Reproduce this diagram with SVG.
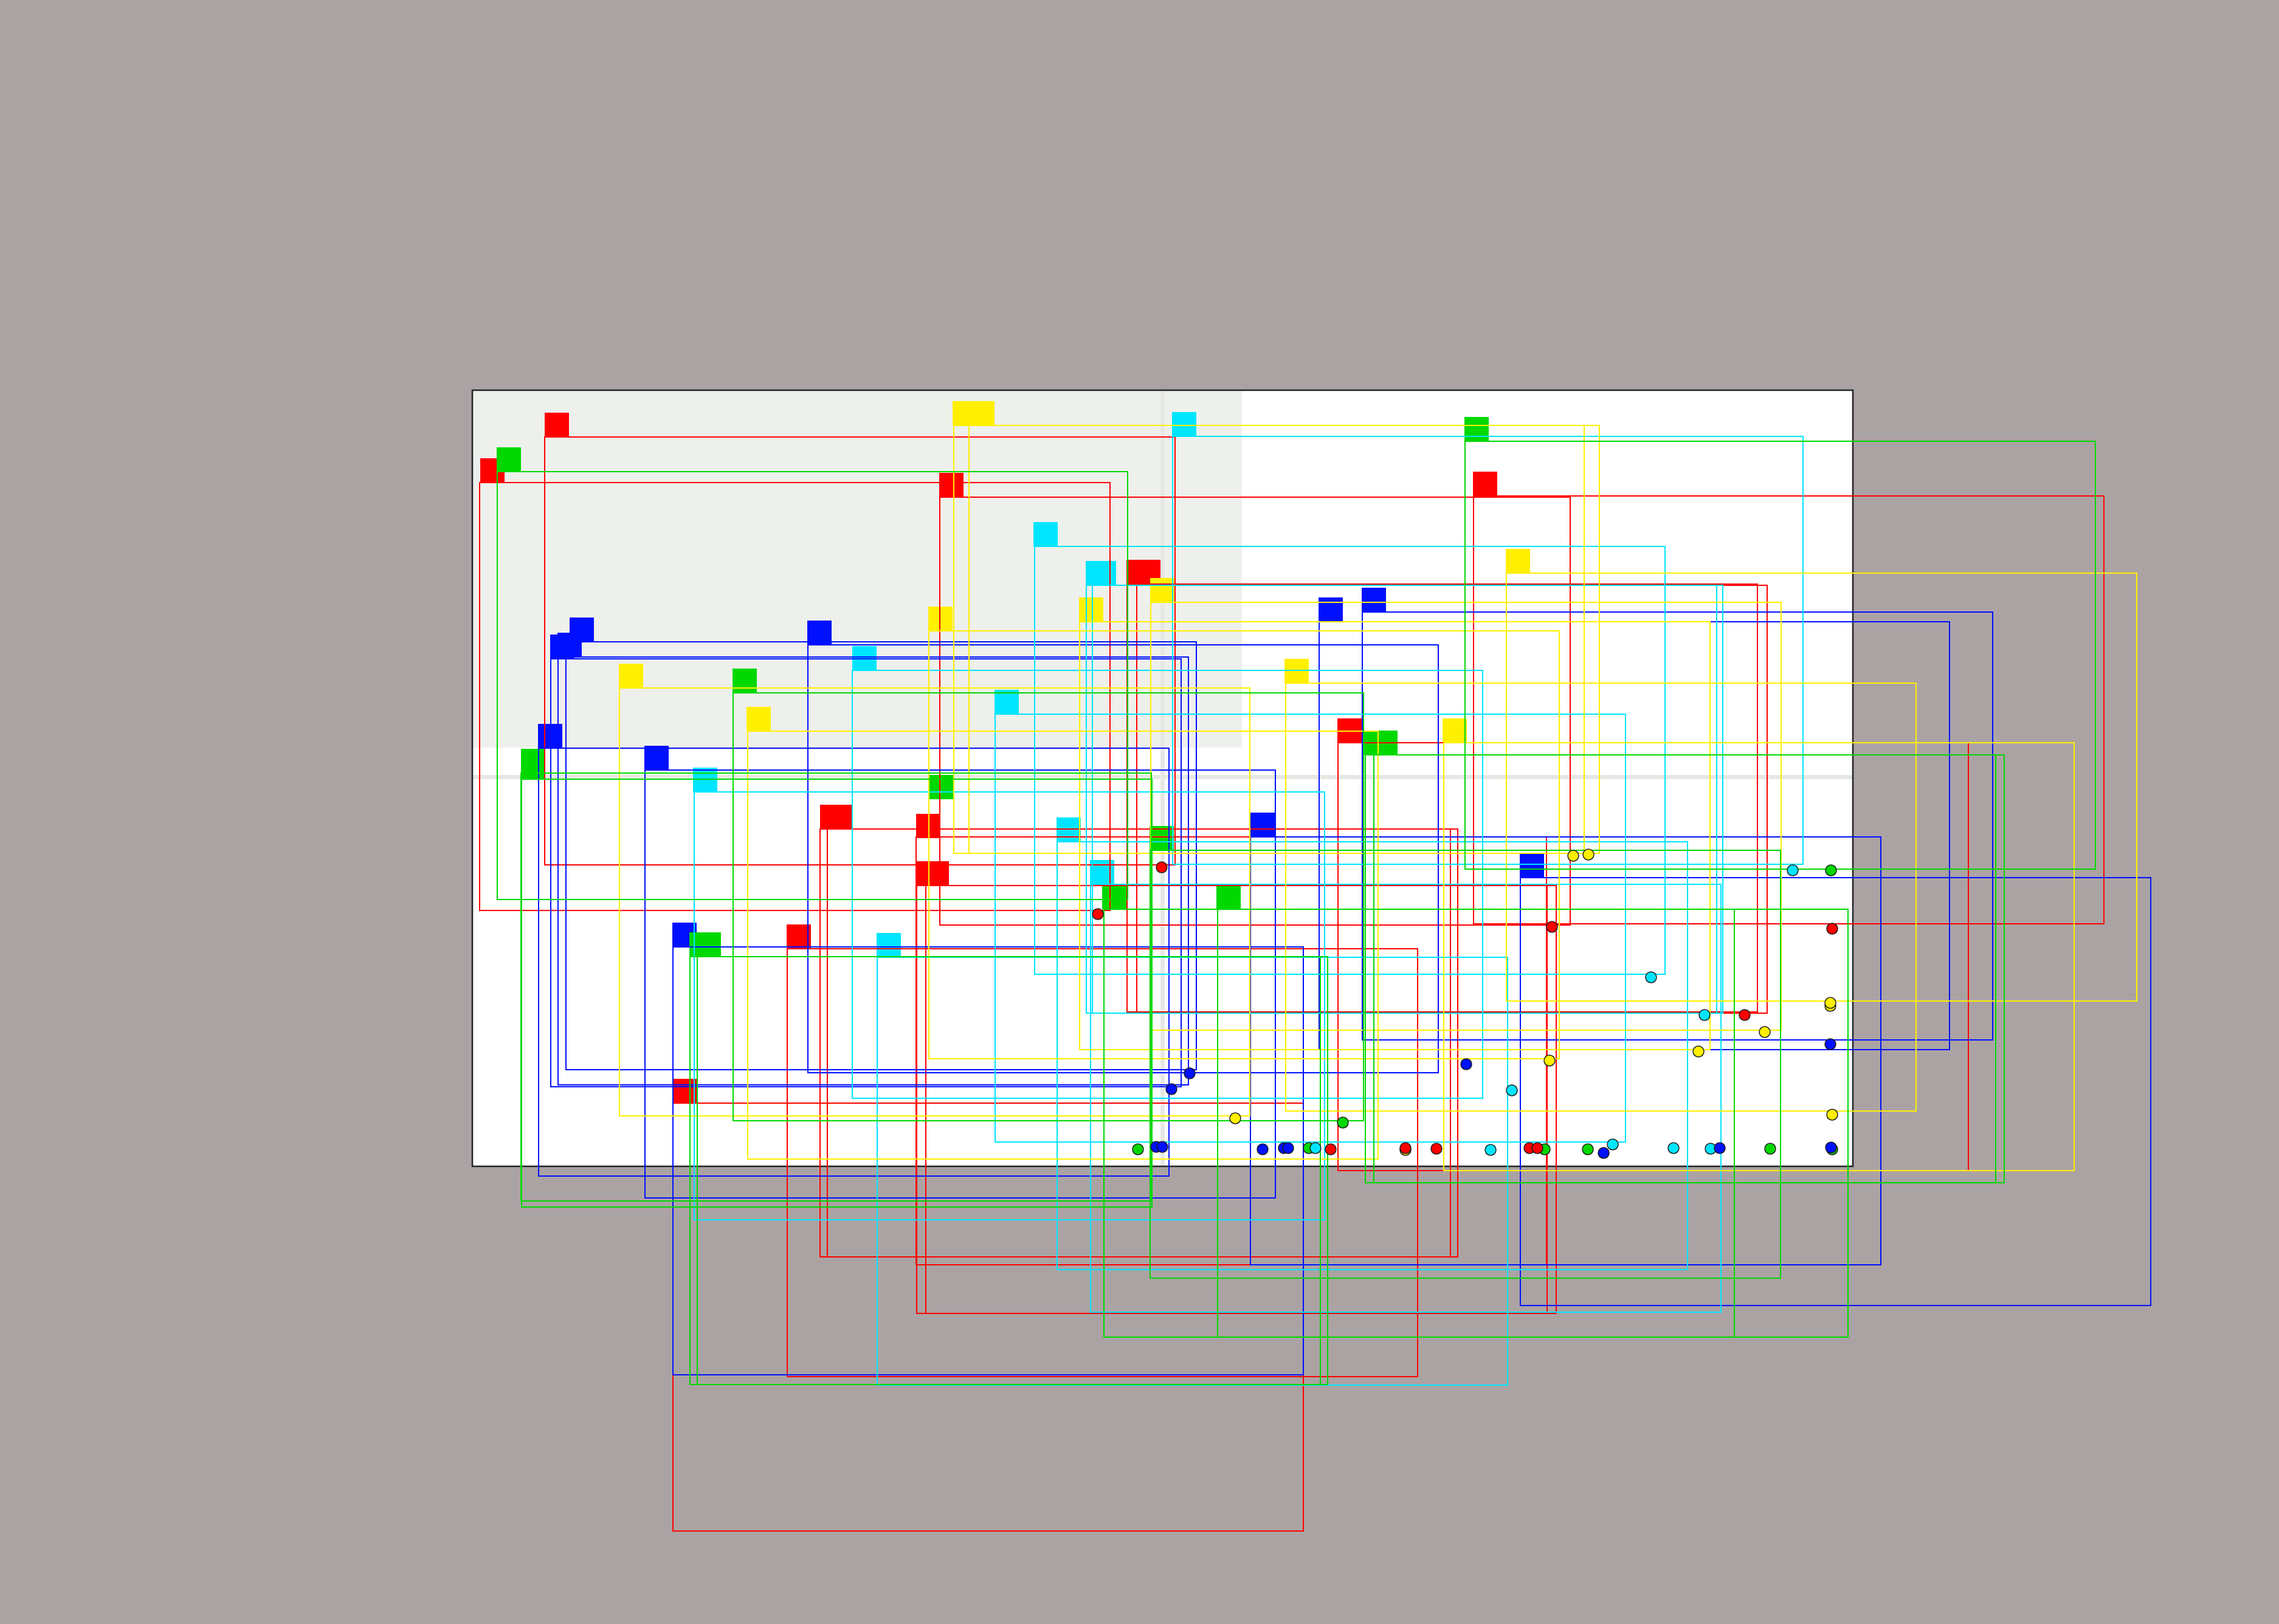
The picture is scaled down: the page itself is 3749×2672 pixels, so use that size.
<svg xmlns="http://www.w3.org/2000/svg" width="3749" height="2672" viewBox="0 0 3749 2672">
<style>
.sr{fill:#FF0000}.sg{fill:#00D800}.sb{fill:#0010FF}.sc{fill:#00E5FF}.sy{fill:#FFF000}
.f{fill:none;stroke-width:2}
.fr{stroke:#FF0000}.fg{stroke:#00D800}.fb{stroke:#0010FF}.fc{stroke:#00E5FF}.fy{stroke:#FFF000}
.d{stroke:#1E1E1E;stroke-width:1.5}
</style>
<rect width="3749" height="2672" fill="#ABA3A3"/>
<g id="panel">
<rect x="777" y="642" width="2271" height="1277" fill="#FFFFFF"/>
<rect x="778" y="643" width="1265" height="587" fill="#EEF0EC"/>
<rect x="1909" y="643" width="7" height="1275" fill="#E6E8E3"/>
<rect x="778" y="1275" width="2269" height="7" fill="#E6E8E3"/>
<rect x="777" y="642" width="2271" height="1277" fill="none" stroke="#222228" stroke-width="2.5"/>
</g>
<g id="tags">
<g class="sr">
<rect x="896" y="679" width="40" height="40"/><rect x="790" y="754" width="40" height="40"/><rect x="1545" y="778" width="40" height="40"/><rect x="2423" y="776" width="40" height="40"/><rect x="1853" y="921" width="40" height="40"/><rect x="1869" y="921" width="40" height="40"/><rect x="1349" y="1324" width="40" height="40"/><rect x="1361" y="1324" width="40" height="40"/><rect x="1507" y="1339" width="40" height="40"/><rect x="1508" y="1417" width="40" height="40"/><rect x="1521" y="1417" width="40" height="40"/><rect x="1294" y="1521" width="40" height="40"/><rect x="1107" y="1775" width="40" height="40"/><rect x="2200" y="1182" width="40" height="40"/>
</g>
<g class="sb">
<rect x="937" y="1016" width="40" height="40"/><rect x="917" y="1041" width="40" height="40"/><rect x="905" y="1044" width="40" height="40"/><rect x="1328" y="1021" width="40" height="40"/><rect x="885" y="1191" width="40" height="40"/><rect x="1060" y="1227" width="40" height="40"/><rect x="2057" y="1337" width="40" height="40"/><rect x="1106" y="1518" width="40" height="40"/><rect x="2169" y="983" width="40" height="40"/><rect x="2240" y="967" width="40" height="40"/><rect x="2500" y="1404" width="40" height="40"/>
</g>
<g class="sc">
<rect x="1928" y="678" width="40" height="40"/><rect x="1700" y="859" width="40" height="40"/><rect x="1786" y="923" width="40" height="40"/><rect x="1796" y="923" width="40" height="40"/><rect x="1402" y="1063" width="40" height="40"/><rect x="1140" y="1263" width="40" height="40"/><rect x="1738" y="1345" width="40" height="40"/><rect x="1793" y="1415" width="40" height="40"/><rect x="1442" y="1535" width="40" height="40"/><rect x="1636" y="1135" width="40" height="40"/>
</g>
<g class="sy">
<rect x="1567" y="660" width="40" height="40"/><rect x="1596" y="660" width="40" height="40"/><rect x="1892" y="951" width="40" height="40"/><rect x="1775" y="983" width="40" height="40"/><rect x="1527" y="998" width="40" height="40"/><rect x="1018" y="1092" width="40" height="40"/><rect x="1228" y="1163" width="40" height="40"/><rect x="2113" y="1084" width="40" height="40"/><rect x="2477" y="903" width="40" height="40"/><rect x="2373" y="1182" width="40" height="40"/>
</g>
<g class="sg">
<rect x="817" y="736" width="40" height="40"/><rect x="1205" y="1100" width="40" height="40"/><rect x="857" y="1232" width="40" height="40"/><rect x="857" y="1242" width="40" height="40"/><rect x="1891" y="1359" width="40" height="40"/><rect x="1813" y="1456" width="40" height="40"/><rect x="2001" y="1456" width="40" height="40"/><rect x="1134" y="1534" width="40" height="40"/><rect x="1146" y="1534" width="40" height="40"/><rect x="2409" y="686" width="40" height="40"/><rect x="2244" y="1202" width="40" height="40"/><rect x="2259" y="1202" width="40" height="40"/><rect x="1528" y="1275" width="40" height="40"/>
</g>
</g>
<g id="frames">
<g class="f fr">
<rect x="896" y="719" width="1037" height="704"/><rect x="789" y="794" width="1037" height="704"/><rect x="1546" y="818" width="1037" height="704"/><rect x="2424" y="816" width="1037" height="704"/><rect x="1854" y="961" width="1037" height="704"/><rect x="1870" y="963" width="1037" height="704"/><rect x="1349" y="1364" width="1037" height="704"/><rect x="1361" y="1364" width="1037" height="704"/><rect x="1507" y="1377" width="1037" height="704"/><rect x="1508" y="1457" width="1037" height="704"/><rect x="1523" y="1457" width="1037" height="704"/><rect x="1295" y="1561" width="1037" height="704"/><rect x="1107" y="1815" width="1037" height="704"/><rect x="2201" y="1222" width="1037" height="704"/>
</g>
<g class="f fb">
<rect x="931" y="1056" width="1037" height="704"/><rect x="918" y="1081" width="1037" height="704"/><rect x="906" y="1084" width="1037" height="704"/><rect x="1329" y="1061" width="1037" height="704"/><rect x="886" y="1231" width="1037" height="704"/><rect x="1061" y="1267" width="1037" height="704"/><rect x="2057" y="1377" width="1037" height="704"/><rect x="1107" y="1558" width="1037" height="704"/><rect x="2170" y="1023" width="1037" height="704"/><rect x="2241" y="1007" width="1037" height="704"/><rect x="2501" y="1444" width="1037" height="704"/>
</g>
<g class="f fc">
<rect x="1929" y="718" width="1037" height="704"/><rect x="1702" y="899" width="1037" height="704"/><rect x="1787" y="963" width="1037" height="704"/><rect x="1797" y="963" width="1037" height="704"/><rect x="1402" y="1103" width="1037" height="704"/><rect x="1142" y="1303" width="1037" height="704"/><rect x="1739" y="1385" width="1037" height="704"/><rect x="1794" y="1455" width="1037" height="704"/><rect x="1443" y="1575" width="1037" height="704"/><rect x="1637" y="1175" width="1037" height="704"/>
</g>
<g class="f fy">
<rect x="1569" y="700" width="1037" height="704"/><rect x="1594" y="700" width="1037" height="704"/><rect x="1893" y="991" width="1037" height="704"/><rect x="1776" y="1023" width="1037" height="704"/><rect x="1528" y="1038" width="1037" height="704"/><rect x="1019" y="1132" width="1037" height="704"/><rect x="1230" y="1203" width="1037" height="704"/><rect x="2115" y="1124" width="1037" height="704"/><rect x="2478" y="943" width="1037" height="704"/><rect x="2375" y="1222" width="1037" height="704"/>
</g>
<g class="f fg">
<rect x="818" y="776" width="1037" height="704"/><rect x="1206" y="1140" width="1037" height="704"/><rect x="857" y="1272" width="1037" height="704"/><rect x="858" y="1282" width="1037" height="704"/><rect x="1892" y="1399" width="1037" height="704"/><rect x="1816" y="1496" width="1037" height="704"/><rect x="2003" y="1496" width="1037" height="704"/><rect x="1135" y="1574" width="1037" height="704"/><rect x="1147" y="1574" width="1037" height="704"/><rect x="2410" y="726" width="1037" height="704"/><rect x="2246" y="1242" width="1037" height="704"/><rect x="2260" y="1242" width="1037" height="704"/>
</g>
</g>
<g id="dots" class="d">
<g class="sy">
<circle cx="2312" cy="1892" r="9"/><circle cx="2032" cy="1840" r="9"/><circle cx="2588" cy="1408" r="9"/><circle cx="2613" cy="1406" r="9"/><circle cx="2794" cy="1730" r="9"/><circle cx="2549" cy="1745" r="9"/><circle cx="3011" cy="1655" r="9"/><circle cx="3011" cy="1650" r="9"/><circle cx="2903" cy="1698" r="9"/><circle cx="3014" cy="1834" r="9"/>
</g>
<g class="sg">
<circle cx="1872" cy="1891" r="9"/><circle cx="2153" cy="1889" r="9"/><circle cx="2209" cy="1847" r="9"/><circle cx="2541" cy="1891" r="9"/><circle cx="2612" cy="1891" r="9"/><circle cx="3012" cy="1432" r="9"/><circle cx="2912" cy="1890" r="9"/><circle cx="3014" cy="1891" r="9"/>
</g>
<g class="sc">
<circle cx="2164" cy="1889" r="9"/><circle cx="2716" cy="1608" r="9"/><circle cx="2804" cy="1670" r="9"/><circle cx="2487" cy="1794" r="9"/><circle cx="2452" cy="1892" r="9"/><circle cx="2653" cy="1883" r="9"/><circle cx="2753" cy="1889" r="9"/><circle cx="2814" cy="1890" r="9"/><circle cx="2949" cy="1432" r="9"/>
</g>
<g class="sr">
<circle cx="1911" cy="1427" r="9"/><circle cx="1806" cy="1504" r="9"/><circle cx="2553" cy="1525" r="9"/><circle cx="3014" cy="1528" r="9"/><circle cx="2870" cy="1670" r="9"/><circle cx="2189" cy="1891" r="9"/><circle cx="2312" cy="1889" r="9"/><circle cx="2363" cy="1890" r="9"/><circle cx="2516" cy="1889" r="9"/><circle cx="2529" cy="1889" r="9"/>
</g>
<g class="sb">
<circle cx="1957" cy="1766" r="9"/><circle cx="1927" cy="1792" r="9"/><circle cx="1902" cy="1887" r="9"/><circle cx="1912" cy="1887" r="9"/><circle cx="2077" cy="1891" r="9"/><circle cx="2112" cy="1889" r="9"/><circle cx="2119" cy="1889" r="9"/><circle cx="2412" cy="1751" r="9"/><circle cx="2638" cy="1897" r="9"/><circle cx="2829" cy="1889" r="9"/><circle cx="3011" cy="1718" r="9"/><circle cx="3012" cy="1888" r="9"/>
</g>
</g>
</svg>
